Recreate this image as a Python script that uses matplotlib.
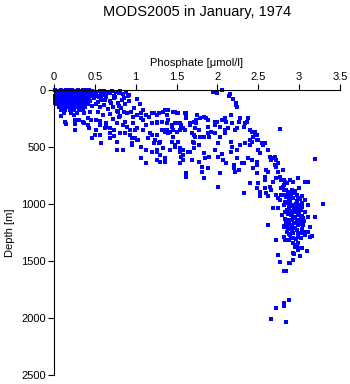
import matplotlib
matplotlib.use("Agg")
import matplotlib.pyplot as plt

plt.rcParams["font.family"] = ["Liberation Sans", "DejaVu Sans"]

title = "MODS2005 in January, 1974"
x_label = "Phosphate [\u03bcmol/l]"
y_label = "Depth [m]"
x_ticks = [0, 0.5, 1, 1.5, 2, 2.5, 3, 3.5]
x_tick_labels = ["0", "0.5", "1", "1.5", "2", "2.5", "3", "3.5"]
y_ticks = [0, 500, 1000, 1500, 2000, 2500]

# surface layer (0 - 250 m), very dense
surf_phos = [
    0.01, 0.04, 0.08, 0.11, 0.15, 0.18, 0.22, 0.25, 0.29, 0.32, 0.36, 0.39, 0.43, 0.46,
    0.02, 0.05, 0.09, 0.12, 0.16, 0.19, 0.23, 0.27, 0.30, 0.34, 0.37, 0.41, 0.45,
    0.01, 0.04, 0.07, 0.11, 0.14, 0.18, 0.21, 0.25, 0.28, 0.32, 0.35, 0.39, 0.42, 0.47,
    0.02, 0.06, 0.09, 0.13, 0.16, 0.20, 0.24, 0.27, 0.31, 0.34, 0.38, 0.43,
    0.01, 0.05, 0.08, 0.12, 0.15, 0.19, 0.22, 0.26, 0.29, 0.33, 0.37, 0.40, 0.44,
    0.03, 0.07, 0.10, 0.14, 0.18, 0.21, 0.26, 0.30, 0.35, 0.41,
    0.06, 0.11, 0.15, 0.20, 0.24, 0.29, 0.33, 0.38,
    0.09, 0.14, 0.19, 0.25, 0.31, 0.36,
    0.12, 0.21, 0.28, 0.37, 0.09, 0.24,
    0.03, 0.06, 0.10, 0.13, 0.17, 0.20, 0.24, 0.28, 0.31, 0.35, 0.38, 0.42, 0.45,
    0.02, 0.05, 0.09, 0.12, 0.16, 0.19, 0.23, 0.26, 0.30, 0.33, 0.37, 0.41, 0.46,
    0.01, 0.04, 0.08, 0.11, 0.15, 0.18, 0.22, 0.26, 0.29, 0.33, 0.36, 0.40,
    0.02, 0.05, 0.09, 0.13, 0.17, 0.20, 0.24, 0.28, 0.32, 0.35, 0.39, 0.42,
    0.01, 0.04, 0.08, 0.12, 0.17, 0.23, 0.27, 0.32, 0.38,
    0.50, 0.56, 0.61, 0.66, 0.71, 0.76, 0.81, 0.84, 0.88, 0.92,
    0.53, 0.58, 0.64, 0.69, 0.73, 0.78, 0.83, 0.87, 0.92,
    0.51, 0.56, 0.61, 0.66, 0.72, 0.77, 0.82,
    0.54, 0.60, 0.69, 0.81, 0.94, 0.98, 1.02, 1.05, 1.09, 1.13, 1.07,
    0.72, 0.56, 0.64, 0.87, 0.44, 0.47, 0.42, 0.26, 0.37, 0.15,
    0.49, 0.55, 0.62, 0.68, 0.75, 0.86, 0.90, 0.59, 0.70, 0.79,
    0.52, 0.58, 0.63, 0.74, 0.80, 0.49, 0.54, 0.68,
    1.95, 1.99, 2.06, 2.14, 2.15, 2.19, 2.23, 2.23, 2.24,
]
surf_depth = [
    3, 5, 2, 6, 3, 4, 2, 5, 3, 6, 2, 4, 3, 5,
    25, 28, 24, 27, 26, 23, 28, 25, 27, 24, 26, 28, 25,
    50, 52, 48, 51, 53, 49, 50, 52, 48, 51, 50, 53, 49, 50,
    75, 78, 74, 77, 73, 76, 78, 75, 74, 77, 76, 75,
    100, 102, 98, 101, 103, 99, 100, 104, 98, 101, 100, 103, 99,
    125, 128, 122, 126, 124, 127, 123, 126, 125, 122,
    150, 152, 148, 151, 149, 153, 150, 148,
    175, 178, 172, 176, 174, 177,
    200, 203, 198, 201, 226, 222,
    14, 15, 13, 16, 14, 12, 15, 14, 13, 16, 14, 15, 13,
    38, 37, 39, 36, 38, 40, 37, 38, 36, 39, 38, 37, 39,
    63, 62, 64, 61, 63, 65, 62, 63, 64, 61, 63, 62,
    88, 87, 89, 86, 88, 90, 87, 88, 89, 86, 88, 87,
    112, 113, 111, 114, 112, 113, 111, 112, 114,
    18, 5, 10, 26, 5, 18, 5, 35, 18, 44,
    53, 79, 61, 96, 70, 114, 88, 123, 96,
    123, 149, 132, 167, 149, 184, 158,
    193, 219, 210, 228, 193, 158, 79, 123, 175, 219, 245,
    254, 272, 289, 280, 193, 140, 245, 263, 289, 298,
    40, 65, 45, 30, 60, 70, 55, 90, 110, 140,
    30, 40, 85, 50, 25, 70, 105, 15,
    15, 30, 3, 52, 35, 79, 111, 130, 150,
]

# sloping band in the thermocline (250 - 900 m)
band_phos = [
    0.09, 0.13, 0.26, 0.26, 0.36, 0.42, 0.45, 0.43, 0.52, 0.56, 0.52, 0.50,
    0.56, 0.46, 0.57, 0.69, 0.69, 0.69, 0.64, 0.73, 0.77, 0.79, 0.78, 0.86,
    0.89, 0.84, 0.81, 0.87, 0.77, 0.77, 0.85, 0.93, 0.95, 0.99, 1.01, 0.97,
    0.97, 1.01, 1.07, 1.09, 1.13, 1.16, 1.22, 1.20, 1.26, 1.29, 1.34, 1.38,
    1.40, 1.46, 1.48, 1.50, 1.54, 1.56, 1.60, 1.62, 1.67, 1.71, 1.75, 1.09,
    1.18, 1.26, 1.24, 1.28, 1.07, 1.13, 1.20, 1.26, 1.30, 1.07, 1.13, 1.26,
    1.36, 1.44, 1.48, 1.42, 1.54, 1.56, 1.58, 1.54, 1.62, 1.62, 1.69, 1.71,
    1.38, 1.46, 1.50, 1.56, 1.44, 1.32, 1.69, 1.73, 1.77, 1.71, 1.77, 1.77,
    1.01, 0.99, 0.93, 0.89, 0.95, 1.03,
    1.20, 1.26, 1.36, 1.40, 1.48, 1.52, 1.62, 1.62, 1.74, 1.79, 1.84, 1.86,
    1.88, 1.97, 1.99, 2.05, 2.09, 2.11, 2.16, 2.18, 2.26, 2.28, 2.34, 2.38,
    2.36, 1.26, 1.32, 1.38, 1.44, 1.50, 1.56, 1.58, 1.67, 1.74, 1.88, 1.97,
    2.03, 2.13, 1.20, 1.22, 1.30, 1.40, 1.44, 1.48, 1.54, 1.58, 1.33, 1.36,
    1.42, 1.46, 1.54, 1.60, 1.71, 1.72, 1.79, 1.83, 1.88, 1.90, 1.92, 1.97,
    2.03, 2.09, 2.09, 2.21, 2.24, 2.32, 2.40, 2.42, 2.46, 1.26, 1.26, 1.30,
    1.36, 1.56, 1.58, 1.64, 1.70, 1.83, 1.81, 1.81, 1.83, 1.62, 1.62, 1.88,
    1.90, 1.97, 2.01, 2.01, 2.07, 2.11, 2.03, 2.01, 2.16, 2.18, 2.16, 2.24,
    2.28, 2.24, 2.20, 2.22, 2.26, 2.32, 2.34, 2.40, 2.40, 2.44, 2.42, 2.48,
    2.46, 2.48, 2.50, 2.54, 2.56, 2.58, 2.62, 2.50, 2.52, 2.38, 2.42, 2.48,
    2.48, 2.44, 2.48, 2.40, 2.50, 2.48, 2.52, 2.32, 2.58, 2.58, 2.60, 2.62,
    2.64, 2.66, 2.68, 2.70, 2.72, 2.74, 2.70, 2.72, 2.74, 2.80, 2.76, 2.78,
    2.72, 2.68, 2.64, 2.60, 2.58, 2.52, 2.62, 2.66, 2.77, 3.19,
    0.31, 0.62, 0.74, 0.95, 1.15, 1.33, 1.52, 1.66, 1.85, 2.05, 2.20, 2.30,
]
band_depth = [
    228, 280, 298, 350, 277, 307, 263, 336, 263, 307, 350, 394,
    394, 423, 467, 423, 380, 336, 321, 350, 292, 234, 190, 190,
    204, 307, 380, 380, 453, 526, 526, 394, 423, 423, 438, 292,
    234, 219, 204, 263, 307, 234, 204, 292, 277, 204, 190, 219,
    263, 190, 292, 204, 292, 336, 204, 248, 292, 277, 219, 350,
    380, 394, 438, 467, 496, 526, 540, 540, 570, 599, 642, 613,
    628, 453, 496, 526, 540, 584, 613, 642, 745, 760, 613, 511,
    350, 409, 365, 307, 321, 350, 380, 336, 350, 467, 482, 628,
    336, 350, 350, 321, 467, 438,
    204, 219, 175, 175, 190, 204, 204, 234, 263, 248, 234, 248,
    263, 277, 277, 263, 248, 277, 219, 292, 277, 248, 292, 248,
    277, 292, 277, 292, 307, 292, 307, 336, 307, 292, 321, 307,
    321, 336, 394, 467, 453, 380, 453, 482, 511, 526, 350, 365,
    365, 350, 350, 350, 394, 409, 409, 409, 380, 409, 365, 380,
    409, 380, 350, 350, 336, 321, 350, 365, 365, 526, 613, 628,
    599, 584, 570, 540, 453, 555, 672, 716, 768, 730, 760, 686,
    584, 526, 467, 584, 613, 642, 730, 847, 453, 496, 540, 526,
    482, 599, 657, 716, 701, 642, 467, 482, 438, 409, 453, 394,
    380, 438, 438, 467, 482, 467, 526, 526, 555, 599, 613, 628,
    657, 686, 730, 818, 818, 862, 891, 905, 760, 788, 701, 716,
    584, 613, 599, 584, 613, 642, 657, 672, 716, 701, 760, 788,
    774, 803, 847, 905, 862, 934, 934, 876, 342, 605,
    260, 330, 400, 480, 420, 510, 455, 540, 600, 560, 680, 640,
]

# deep water (below 900 m)
deep_phos = [
    2.81, 2.83, 2.81, 2.85, 2.89, 2.93, 2.99, 3.07, 3.11, 2.80, 2.84, 2.78,
    2.87, 2.91, 3.00, 2.74, 2.76, 2.80, 2.84, 2.87, 2.89, 2.93, 2.97, 2.99,
    3.03, 3.07, 3.11, 2.81, 2.85, 2.89, 2.91, 2.95, 2.99, 3.03, 2.87, 2.83,
    2.79, 2.91, 2.95, 3.00, 3.07, 3.11, 3.20, 3.05, 3.01, 2.97, 2.91, 2.87,
    2.85, 2.81, 2.91, 2.62, 2.74, 2.68, 2.78, 2.72, 3.29, 3.13,
    2.82, 2.86, 2.90, 2.95, 2.84, 2.88, 2.93, 2.97, 3.01, 2.83, 2.87, 2.92,
    2.96, 3.00, 3.04, 2.85, 2.89, 2.94, 2.98, 3.02, 2.86, 2.90, 2.95, 2.99,
    3.03, 2.83, 2.88, 2.93, 2.97, 3.02, 3.06, 2.84, 2.89, 2.94, 2.99, 3.04,
    2.86, 2.91, 2.97, 3.03, 2.88, 2.93, 2.99, 3.05, 2.90, 2.96, 3.02, 2.92,
    2.98, 2.95,
    2.81, 2.85, 2.89, 2.95, 3.01, 3.05, 3.11, 2.81, 2.87, 2.93, 2.97, 3.01,
    2.93, 2.89, 2.83, 2.99, 3.07, 3.13,
    2.72, 2.74, 2.77, 2.81, 2.84, 2.88, 2.92, 2.94, 2.96, 3.03, 2.98, 3.10,
    3.01, 3.16, 3.09,
    2.88, 2.81, 2.81, 2.72, 2.65, 2.84,
]
deep_depth = [
    788, 803, 832, 818, 788, 803, 774, 803, 803, 847, 876, 862,
    891, 876, 862, 949, 964, 920, 920, 934, 920, 905, 920, 949,
    934, 964, 1007, 1007, 993, 978, 1007, 1022, 1037, 1022, 1037, 1066,
    1095, 1080, 1066, 1080, 1066, 1110, 1110, 1124, 1153, 1168, 1139, 1153,
    1183, 1197, 1197, 1183, 1037, 1037, 920, 920, 1000, 1200,
    880, 895, 910, 890, 940, 960, 950, 975, 960, 985, 1000, 1015,
    1000, 1010, 995, 1050, 1060, 1045, 1055, 1050, 1090, 1100, 1110, 1095,
    1105, 1130, 1140, 1125, 1140, 1135, 1150, 1170, 1180, 1165, 1185, 1175,
    1215, 1225, 1230, 1220, 1260, 1250, 1265, 1255, 1300, 1310, 1295, 1340,
    1345, 1380,
    1199, 1242, 1271, 1213, 1257, 1184, 1242, 1286, 1316, 1301, 1359, 1389,
    1432, 1520, 1316, 1286, 1271, 1286,
    1320, 1450, 1510, 1590, 1590, 1520, 1490, 1440, 1370, 1390, 1400, 1410,
    1460, 1285, 1245,
    1840, 1870, 1895, 1915, 2010, 2035,
]

fig = plt.figure(figsize=(3.5, 3.84), dpi=100)
ax = fig.add_axes([54 / 350, 9 / 384, 286 / 350, 285 / 384])

for px, dz in [(surf_phos, surf_depth), (band_phos, band_depth), (deep_phos, deep_depth)]:
    ax.plot(px, dz, linestyle="none", marker="s", markersize=2.3,
            markeredgewidth=0, color="#0000ff", clip_on=False)

ax.set_xlim(0, 3.5)
ax.set_ylim(2500, 0)
ax.xaxis.set_ticks_position("top")
ax.xaxis.set_label_position("top")
ax.set_xticks(x_ticks)
ax.set_xticklabels(x_tick_labels)
ax.set_yticks(y_ticks)
ax.tick_params(direction="out", length=4, width=0.8, labelsize=8, pad=2)
ax.spines["right"].set_visible(False)
ax.spines["bottom"].set_visible(False)
for s in ("top", "left"):
    ax.spines[s].set_linewidth(0.8)

ax.set_xlabel(x_label, fontsize=8, labelpad=4)
ax.set_ylabel(y_label, fontsize=8, labelpad=4)
fig.text((54 + 340) / 2 / 350, 1 - 12 / 384, title, ha="center", va="center", fontsize=10.5)

fig.savefig("out.png", dpi=100)
